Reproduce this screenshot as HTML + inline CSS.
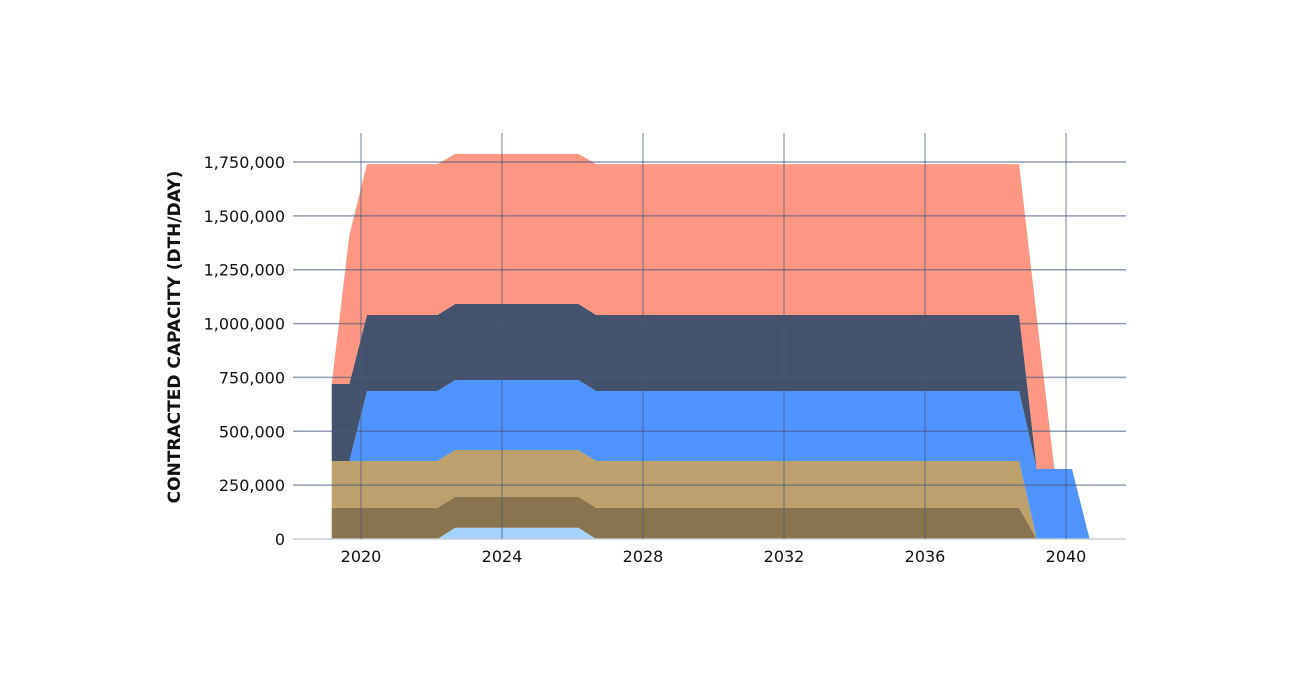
<!DOCTYPE html>
<html><head><meta charset="utf-8"><style>
html,body{margin:0;padding:0;background:#fff;}
svg{display:block;font-family:"DejaVu Sans","Liberation Sans",sans-serif;}
</style></head><body>
<svg id="chart" width="1300" height="700" viewBox="0 0 1300 700" xmlns="http://www.w3.org/2000/svg">
<g id="areas"></g>
<g id="grid"></g>
<g id="yticks"></g>
<g id="xticks"></g>
<text transform="translate(180,337) rotate(-90)" text-anchor="middle" font-size="17" font-weight="bold" fill="#111">CONTRACTED CAPACITY (DTH/DAY)</text>
</svg>
<script>
const years = [2019.17, 2019.67, 2020.17, 2022.17, 2022.67, 2026.17, 2026.67, 2038.67, 2039.17, 2039.67, 2040.17, 2040.67];
const seriesNames = ["light-blue","dark-brown","tan","blue","navy","salmon"];
const lightBlue = [0, 0, 0, 0, 52000, 52000, 0, 0, 0, 0, 0, 0];
const darkBrown = [145000, 145000, 145000, 145000, 143000, 143000, 145000, 145000, 0, 0, 0, 0];
const tan = [217000, 217000, 217000, 217000, 218000, 218000, 217000, 217000, 0, 0, 0, 0];
const blue = [0, 0, 325000, 325000, 325000, 325000, 325000, 325000, 325000, 325000, 325000, 0];
const navy = [358000, 358000, 353000, 353000, 353000, 353000, 353000, 353000, 0, 0, 0, 0];
const salmon = [0, 691000, 700000, 700000, 697000, 697000, 700000, 700000, 705000, 0, 0, 0];
const colors = ["#a5d2fa","#88744e","#bca16d","#4f93fd","#45526b","#fd9783"];
const yTicks = [0,250000,500000,750000,1000000,1250000,1500000,1750000];
const xTicks = [2020,2024,2028,2032,2036,2040];

const NS="http://www.w3.org/2000/svg";
const X = y => 361 + (y-2020)*35.25;
const Y = v => 539 - v*377/1750000;
const series=[lightBlue,darkBrown,tan,blue,navy,salmon];
const areas=document.getElementById('areas');
let base=years.map(()=>0);
series.forEach((s,i)=>{
  const top=base.map((b,j)=>b+s[j]);
  let d="M"+years.map((y,j)=>X(y)+","+Y(top[j])).join("L");
  for(let j=years.length-1;j>=0;j--) d+="L"+X(years[j])+","+Y(base[j]);
  d+="Z";
  const p=document.createElementNS(NS,'path');
  p.setAttribute('d',d);
  p.setAttribute('fill',colors[i]);
  
  
  areas.appendChild(p);
  base=top;
});
const grid=document.getElementById('grid');
const yt=document.getElementById('yticks');
yTicks.forEach((v,i)=>{
  const l=document.createElementNS(NS,'line');
  l.setAttribute('x1',293);l.setAttribute('x2',1126);
  l.setAttribute('y1',Y(v));l.setAttribute('y2',Y(v));
  l.setAttribute('stroke', v===0?'#c8cdda':'#4a5a80');
  l.setAttribute('stroke-opacity', v===0?'1':'0.6');
  l.setAttribute('stroke-width',1.5);
  
  
  grid.appendChild(l);
  const t=document.createElementNS(NS,'text');
  t.setAttribute('x',285);t.setAttribute('y',Y(v)+6);
  t.setAttribute('text-anchor','end');t.setAttribute('font-size','16');t.setAttribute('fill','#111');
  t.textContent=v.toLocaleString('en-US');
  
  
  yt.appendChild(t);
});
const xt=document.getElementById('xticks');
xTicks.forEach(y=>{
  const l=document.createElementNS(NS,'line');
  l.setAttribute('x1',X(y));l.setAttribute('x2',X(y));
  l.setAttribute('y1',133);l.setAttribute('y2',539);
  l.setAttribute('stroke','#4a5a80');l.setAttribute('stroke-opacity','0.5');l.setAttribute('stroke-width',1.5);
  
  
  grid.appendChild(l);
  const t=document.createElementNS(NS,'text');
  t.setAttribute('x',X(y));t.setAttribute('y',562);
  t.setAttribute('text-anchor','middle');t.setAttribute('font-size','16');t.setAttribute('fill','#111');
  t.textContent=y;
  
  
  xt.appendChild(t);
});
</script>
</body></html>
